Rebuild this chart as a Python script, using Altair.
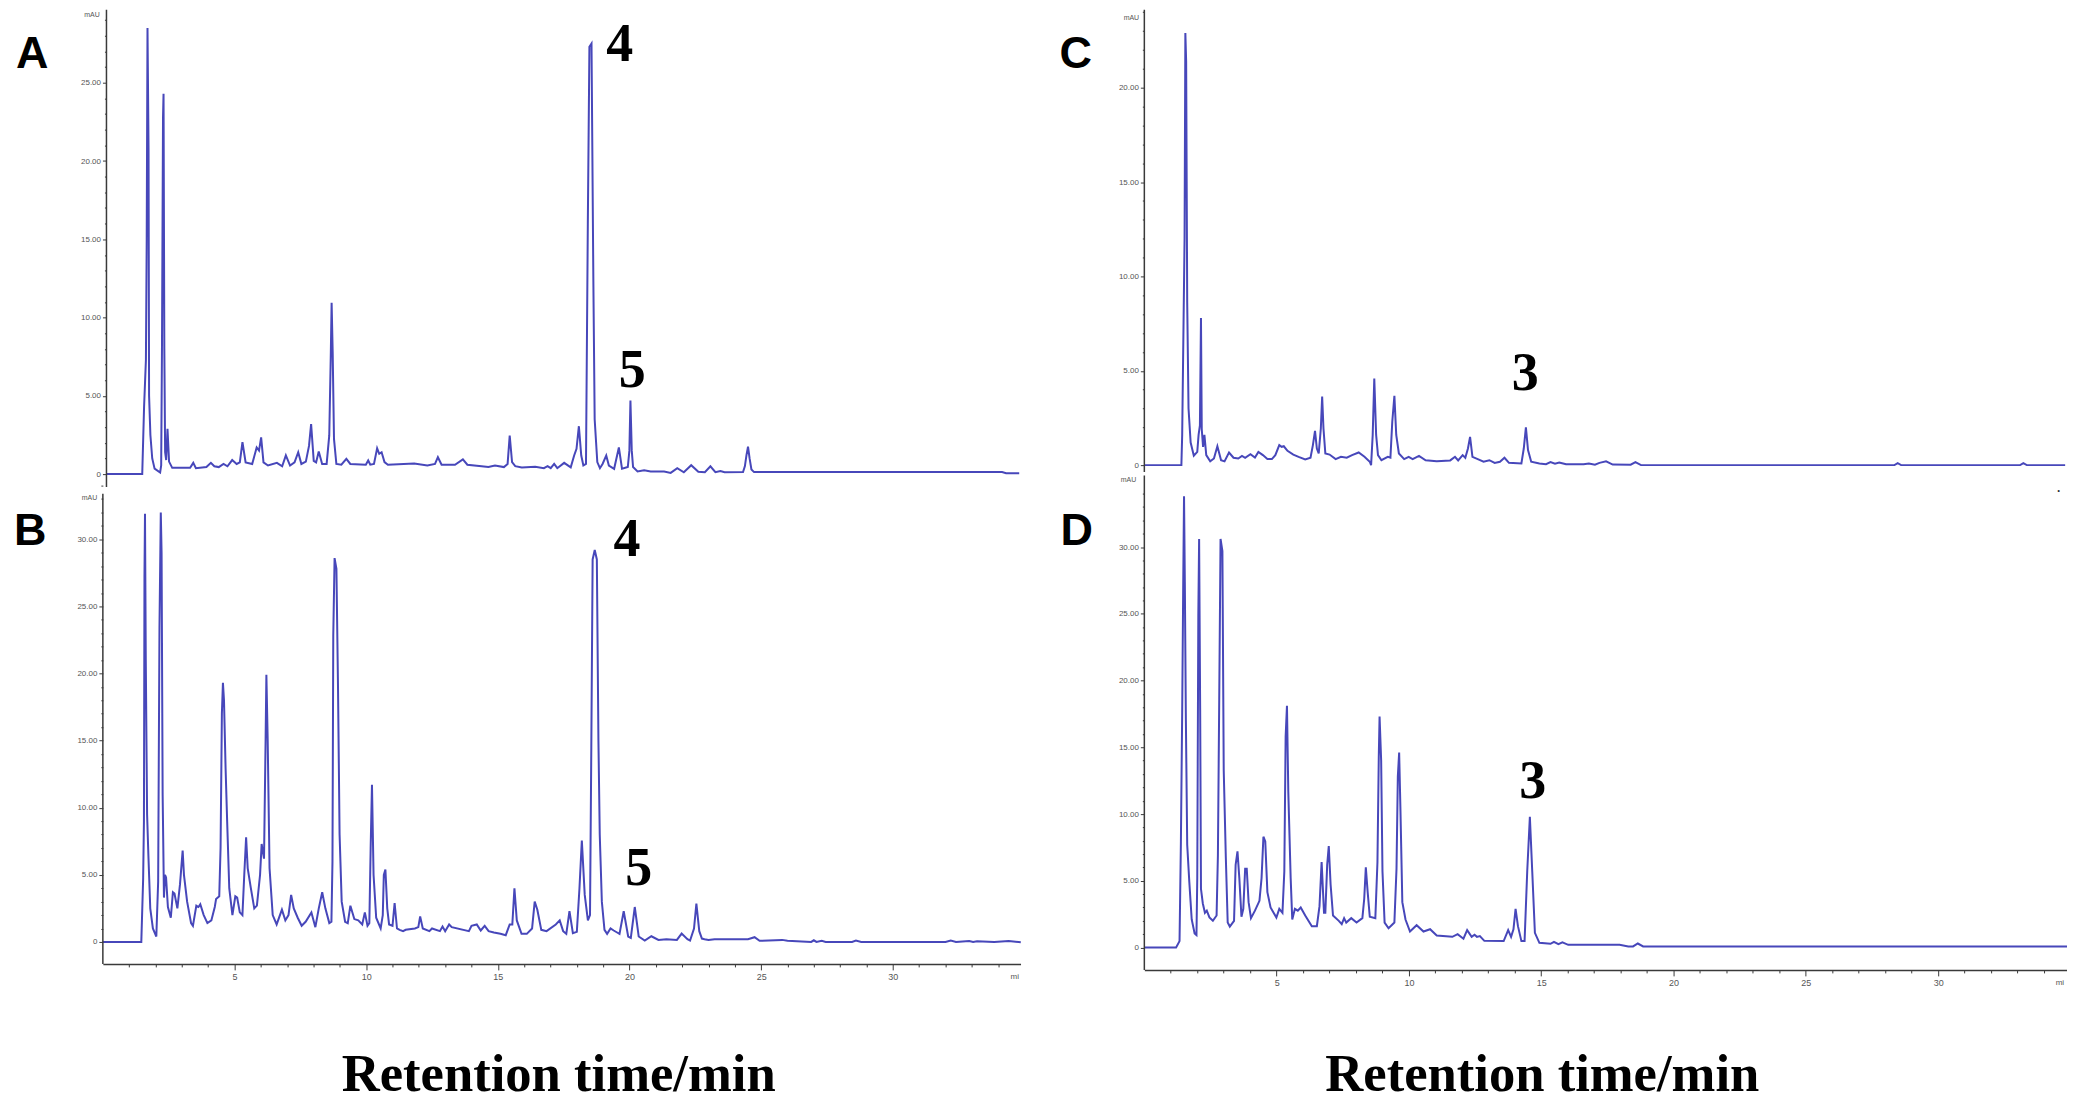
import altair as alt
import pandas as pd

# chromatograms: retention time (min) and signal (labelled axis units)
t_a = [0, 1.36, 1.43, 1.5, 1.53, 1.56, 1.6, 1.62, 1.67, 1.74, 1.83, 2.04, 2.08, 2.11, 2.15, 2.17, 2.2, 2.23, 2.27, 2.32,
       2.38, 2.5, 3.18, 3.3, 3.4, 3.8, 3.97, 4.1, 4.27, 4.45, 4.6, 4.78, 4.95, 5.07, 5.17, 5.29, 5.54, 5.71, 5.8, 5.88,
       5.97, 6.14, 6.48, 6.68, 6.82, 6.98, 7.15, 7.29, 7.41, 7.58, 7.7, 7.78, 7.88, 7.97, 8.07, 8.2, 8.37, 8.47, 8.53, 8.56,
       8.6, 8.65, 8.74, 8.93, 9.12, 9.27, 9.86, 9.95, 10.03, 10.17, 10.29, 10.37, 10.46, 10.57, 10.7, 11.7, 12.2, 12.49, 12.6, 12.74,
       13.25, 13.55, 13.72, 14.26, 14.52, 14.77, 15.11, 15.25, 15.33, 15.42, 15.54, 15.79, 16.3, 16.63, 16.77, 16.89, 17.02, 17.14, 17.4, 17.65,
       17.78, 17.87, 17.96, 18.05, 18.13, 18.23, 18.3, 18.36, 18.44, 18.51, 18.56, 18.66, 18.76, 18.86, 19.0, 19.1, 19.3, 19.48, 19.6, 19.82,
       19.88, 19.92, 19.97, 20.02, 20.19, 20.44, 20.69, 21.2, 21.45, 21.7, 21.95, 22.23, 22.5, 22.75, 22.96, 23.15, 23.34, 23.5, 24.2, 24.27,
       24.33, 24.39, 24.45, 24.52, 24.62, 34.05, 34.2, 34.7]
y_a = [0, 0, 4.3, 7.3, 15, 28.5, 20.7, 5, 2.5, 1, 0.35, 0.1, 0.55, 8, 22.8, 24.3, 8, 1.4, 0.9, 2.9,
       0.8, 0.4, 0.4, 0.72, 0.38, 0.45, 0.72, 0.5, 0.45, 0.65, 0.5, 0.9, 0.65, 0.75, 2.04, 0.75, 0.65, 1.7, 1.5, 2.35,
       0.75, 0.55, 0.72, 0.5, 1.2, 0.55, 0.75, 1.4, 0.65, 0.8, 1.8, 3.2, 0.85, 0.75, 1.45, 0.65, 0.65, 2.47, 7.8, 10.95,
       7.8, 2.25, 0.65, 0.6, 0.98, 0.65, 0.6, 0.87, 0.6, 0.65, 1.65, 1.3, 1.4, 0.77, 0.6, 0.68, 0.55, 0.65, 1.08, 0.6,
       0.6, 0.94, 0.6, 0.51, 0.45, 0.55, 0.45, 0.65, 2.46, 0.76, 0.51, 0.43, 0.47, 0.38, 0.51, 0.38, 0.65, 0.38, 0.72, 0.43,
       1.19, 1.62, 3.06, 1.19, 0.55, 0.65, 16, 27.3, 27.5, 12.4, 3.5, 0.77, 0.38, 0.65, 1.19, 0.55, 0.34, 1.7, 0.34, 0.45,
       1.5, 4.7, 1.5, 0.45, 0.17, 0.25, 0.17, 0.17, 0.08, 0.38, 0.12, 0.57, 0.15, 0.12, 0.5, 0.12, 0.2, 0.12, 0.13, 0.5,
       1.2, 1.75, 1.0, 0.3, 0.13, 0.13, 0.06, 0.06]

t_b = [0, 1.46, 1.53, 1.56, 1.58, 1.6, 1.63, 1.68, 1.73, 1.8, 1.9, 2.03, 2.1, 2.15, 2.2, 2.23, 2.27, 2.32, 2.36, 2.4,
       2.47, 2.58, 2.66, 2.72, 2.83, 2.93, 3.03, 3.08, 3.2, 3.35, 3.42, 3.55, 3.63, 3.7, 3.83, 3.97, 4.12, 4.25, 4.3, 4.42,
       4.47, 4.52, 4.56, 4.6, 4.66, 4.72, 4.8, 4.92, 5.03, 5.1, 5.2, 5.3, 5.37, 5.44, 5.5, 5.62, 5.75, 5.85, 5.97, 6.03,
       6.12, 6.18, 6.21, 6.26, 6.33, 6.45, 6.6, 6.8, 6.93, 7.05, 7.15, 7.25, 7.4, 7.55, 7.7, 7.92, 8.07, 8.2, 8.33, 8.45,
       8.6, 8.68, 8.72, 8.75, 8.8, 8.87, 8.93, 8.99, 9.07, 9.2, 9.3, 9.4, 9.55, 9.7, 9.85, 9.95, 10.05, 10.12, 10.17, 10.22,
       10.28, 10.38, 10.55, 10.63, 10.67, 10.73, 10.8, 10.87, 11.0, 11.08, 11.17, 11.27, 11.4, 11.5, 11.85, 11.98, 12.05, 12.15, 12.4, 12.5,
       12.8, 12.9, 13.0, 13.15, 13.25, 13.9, 14.0, 14.2, 14.35, 14.5, 14.65, 14.85, 15.1, 15.3, 15.45, 15.55, 15.63, 15.72, 15.9, 16.1,
       16.3, 16.4, 16.5, 16.65, 16.85, 17.2, 17.35, 17.48, 17.6, 17.72, 17.85, 18.0, 18.1, 18.19, 18.3, 18.42, 18.5, 18.55, 18.6, 18.68,
       18.76, 18.82, 18.87, 18.95, 19.05, 19.15, 19.28, 19.4, 19.53, 19.62, 19.78, 19.95, 20.05, 20.2, 20.35, 20.58, 20.83, 21.1, 21.4, 21.8,
       21.98, 22.2, 22.3, 22.45, 22.54, 22.65, 22.75, 22.85, 23.0, 23.23, 24.5, 24.75, 24.94, 25.8, 26.0, 26.9, 27.0, 27.1, 27.3, 27.45,
       28.45, 28.6, 28.8, 32.0, 32.2, 32.4, 32.9, 33.05, 33.2, 33.85, 34.4, 34.86]
y_b = [0, 0, 4.7, 9, 27.2, 31.9, 21, 9.5, 6.4, 2.5, 1, 0.4, 4.5, 23.5, 32, 29, 11, 3.3, 5, 4.8,
       2.6, 1.8, 3.7, 3.6, 2.5, 4.3, 6.8, 5, 3, 1.4, 1.2, 2.7, 2.6, 2.8, 2, 1.4, 1.6, 2.6, 3.2, 3.4,
       7, 17, 19.3, 18, 13, 9, 4, 2, 3.4, 3.3, 2.2, 2, 5, 7.8, 5.5, 4, 2.5, 2.7, 5, 7.3,
       6.2, 15, 19.9, 15, 5.5, 2, 1.3, 2.4, 1.6, 2, 3.5, 2.5, 1.8, 1.2, 1.5, 2.2, 1.1, 2.5, 3.7, 2.5,
       1.4, 1.5, 6, 22.8, 28.6, 27.8, 19, 8, 3, 1.5, 1.4, 2.7, 1.7, 1.6, 1.3, 2.2, 1.2, 1.4, 7, 11.7,
       5, 1.8, 1, 2, 5, 5.4, 2.5, 1.3, 1.2, 2.9, 1, 0.9, 0.8, 0.9, 1, 1.1, 1.9, 1, 0.8, 1,
       0.8, 1.15, 0.8, 1.3, 1.1, 0.8, 1.2, 1.3, 0.85, 1.2, 0.8, 0.7, 0.6, 0.5, 1.3, 1.3, 4, 1.6, 0.6, 0.6,
       1, 3, 2.4, 0.9, 0.8, 1.3, 1.6, 0.8, 0.6, 2.3, 0.65, 0.75, 4, 7.56, 3.5, 1.6, 2, 14.5, 28.5, 29.2,
       28.5, 15, 8, 3, 0.9, 0.6, 1, 0.85, 0.7, 0.6, 2.28, 0.4, 0.3, 2.6, 0.4, 0.1, 0.42, 0.15, 0.2, 0.15,
       0.62, 0.2, 0.1, 1.0, 2.85, 0.8, 0.25, 0.2, 0.14, 0.2, 0.2, 0.35, 0.08, 0.15, 0.08, 0, 0.12, 0, 0.08, 0,
       0, 0.1, 0, 0, 0.1, 0, 0.07, 0, 0.05, 0, 0.07, -0.02]

t_c = [0, 1.4, 1.43, 1.52, 1.55, 1.58, 1.62, 1.67, 1.75, 1.87, 2.0, 2.05, 2.1, 2.14, 2.17, 2.22, 2.27, 2.34, 2.49, 2.63,
       2.76, 2.9, 3.03, 3.2, 3.37, 3.55, 3.69, 3.81, 4.01, 4.18, 4.31, 4.48, 4.65, 4.82, 4.95, 5.1, 5.19, 5.27, 5.41, 5.63,
       5.83, 6.08, 6.28, 6.37, 6.45, 6.52, 6.59, 6.67, 6.72, 6.77, 6.84, 7.0, 7.23, 7.43, 7.65, 7.85, 8.1, 8.32, 8.52, 8.57,
       8.63, 8.69, 8.76, 8.83, 8.96, 9.2, 9.3, 9.37, 9.45, 9.52, 9.62, 9.82, 9.99, 10.14, 10.38, 10.63, 11.05, 11.56, 11.74, 11.86,
       12.03, 12.13, 12.23, 12.31, 12.4, 12.6, 12.82, 13.04, 13.24, 13.44, 13.61, 13.78, 14.25, 14.34, 14.42, 14.5, 14.62, 14.93, 15.18, 15.35,
       15.52, 15.68, 15.94, 16.6, 16.8, 17.03, 17.2, 17.45, 17.7, 18.38, 18.56, 18.77, 28.35, 28.47, 28.6, 33.1, 33.22, 33.35, 34.8]
y_c = [0, 0, 1.6, 12, 22.9, 21.4, 8.6, 3, 1.2, 0.5, 0.7, 1.6, 2.1, 7.8, 1.9, 0.97, 1.6, 0.53, 0.2, 0.35,
       1, 0.26, 0.2, 0.67, 0.39, 0.35, 0.49, 0.39, 0.58, 0.4, 0.7, 0.53, 0.32, 0.32, 0.53, 1.06, 0.97, 1, 0.76, 0.56,
       0.44, 0.3, 0.39, 1.06, 1.82, 0.88, 0.62, 1.94, 3.63, 1.94, 0.62, 0.56, 0.32, 0.44, 0.39, 0.53, 0.67, 0.44, 0.18, 0,
       1.59, 4.59, 1.6, 0.53, 0.26, 0.44, 0.4, 2.3, 3.67, 1.6, 0.62, 0.32, 0.44, 0.32, 0.49, 0.26, 0.2, 0.25, 0.44, 0.25,
       0.53, 0.39, 0.88, 1.5, 0.44, 0.32, 0.18, 0.26, 0.12, 0.18, 0.39, 0.12, 0.09, 0.88, 2, 0.8, 0.18, 0.09, 0.05, 0.16,
       0.07, 0.14, 0.05, 0.05, 0.09, 0.02, 0.12, 0.2, 0.03, 0.02, 0.16, 0, 0, 0.1, 0, 0, 0.1, 0, 0]

t_d = [0, 1.2, 1.33, 1.38, 1.43, 1.47, 1.5, 1.53, 1.57, 1.62, 1.7, 1.79, 1.9, 1.97, 2.0, 2.04, 2.07, 2.11, 2.14, 2.21,
       2.29, 2.36, 2.46, 2.59, 2.73, 2.78, 2.83, 2.88, 2.95, 3.0, 3.08, 3.15, 3.23, 3.39, 3.45, 3.52, 3.59, 3.67, 3.74, 3.81,
       3.87, 3.94, 4.03, 4.18, 4.35, 4.43, 4.5, 4.57, 4.65, 4.77, 4.99, 5.1, 5.22, 5.29, 5.34, 5.39, 5.44, 5.53, 5.59, 5.69,
       5.8, 5.91, 6.08, 6.33, 6.52, 6.62, 6.7, 6.79, 6.84, 6.91, 6.97, 7.04, 7.13, 7.35, 7.46, 7.55, 7.63, 7.82, 8.02, 8.24,
       8.31, 8.37, 8.44, 8.52, 8.73, 8.81, 8.86, 8.89, 8.95, 9.0, 9.08, 9.23, 9.45, 9.53, 9.58, 9.63, 9.68, 9.75, 9.87, 10.04,
       10.29, 10.55, 10.8, 11.05, 11.64, 11.84, 12.06, 12.2, 12.37, 12.48, 12.57, 12.68, 12.85, 13.58, 13.75, 13.86, 13.95, 14.03, 14.12, 14.25,
       14.37, 14.47, 14.57, 14.66, 14.76, 14.93, 15.35, 15.48, 15.65, 15.8, 16.02, 17.96, 18.29, 18.47, 18.65, 18.85, 34.87]
y_d = [0, 0, 0.48, 7.7, 17.6, 27.4, 33.8, 27.4, 17, 7.7, 4.9, 2.1, 1.06, 0.94, 5.2, 24.9, 30.6, 17.8, 4.4, 3.3,
       2.6, 2.76, 2.25, 2, 2.4, 6.9, 18.6, 30.6, 29.7, 13.3, 6.7, 1.87, 1.57, 2, 6.2, 7.2, 5.2, 2.3, 2.9, 5.9,
       5.9, 3.4, 2.2, 2.76, 3.5, 5.2, 8.3, 7.95, 4.15, 3, 2.25, 2.9, 2.6, 5.7, 15.8, 18.1, 11.7, 5.2, 2.1, 2.9,
       2.76, 3, 2.4, 1.6, 1.6, 3.1, 6.4, 2.6, 2.6, 6.2, 7.6, 4.7, 2.4, 2, 1.75, 2.2, 1.87, 2.2, 1.87, 2.2,
       3.65, 6, 4.15, 2.3, 2.2, 6.4, 14.3, 17.3, 14, 5.7, 1.87, 1.44, 1.87, 5.9, 12.8, 14.6, 10.2, 3.4, 2.1, 1.2,
       1.67, 1.2, 1.37, 0.9, 0.8, 1, 0.66, 1.3, 0.8, 0.96, 0.8, 0.86, 0.5, 0.48, 1.3, 0.8, 1.37, 2.9, 1.6, 0.48,
       0.48, 5.7, 9.8, 5.7, 1.1, 0.35, 0.28, 0.43, 0.25, 0.38, 0.2, 0.2, 0.08, 0.08, 0.3, 0.08, 0.08]

# text placed on each panel's own scales: text, time, signal
peak_a = [("4", 19.51, 26.4), ("5", 19.99, 5.55)]
peak_b = [("4", 19.9, 28.74), ("5", 20.35, 4.26)]
peak_c = [("3", 14.39, 3.97)]
peak_d = [("3", 14.68, 11.23)]
letters = {"A": (-2.82, 25.96), "B": (-2.76, 29.56), "C": (-2.59, 21.06), "D": (-2.56, 30.13)}
units = {"A": (-0.55, 29.3), "B": (-0.51, 33.04), "C": (-0.49, 23.7), "D": (-0.6, 35.05)}
x_title_b = ("Retention time/min", 17.31, -11.09)
x_title_d = ("Retention time/min", 15.04, -10.73)
end_b = ("mi", 34.63, -2.65)
end_d = ("mi", 34.6, -2.65)

LINE = "#4747ba"
AXIS = "#3a3a3a"
TICK = "#555555"


def y_axis(top, offset=0):
    return alt.Axis(
        title=None, grid=False, domain=False, values=list(range(0, top + 1)), offset=offset,
        tickColor=AXIS, tickWidth=1,
        tickSize={"condition": {"test": "datum.value % 5 === 0", "value": 4}, "value": 2},
        labelExpr="datum.value === 0 ? '0' : datum.value % 5 === 0 ? format(datum.value, '.2f') : ''",
        labelFont="Liberation Sans", labelFontSize=8, labelColor=TICK, labelPadding=2, labelOverlap=False,
    )


def x_axis(offset=0):
    return alt.Axis(
        title=None, grid=False, values=list(range(1, 35)), offset=offset,
        domainColor=AXIS, domainWidth=1.5, tickColor=AXIS, tickWidth=1,
        tickSize={"condition": {"test": "datum.value % 5 === 0", "value": 6}, "value": 3},
        labelExpr="datum.value % 5 === 0 ? datum.value : ''",
        labelFont="Liberation Sans", labelFontSize=9, labelColor=TICK, labelPadding=3,
        labelOverlap=False, labelFlush=False,
    )


def panel(name, times, values, xdom, ydom, peaks, rule, xax, yax, extra=(), height=470):
    sx = alt.Scale(domain=xdom, nice=False, zero=False)
    sy = alt.Scale(domain=ydom, nice=False, zero=False)
    X = alt.X("t:Q", scale=sx, axis=xax)
    Y = alt.Y("v:Q", scale=sy, axis=yax)

    line = alt.Chart(pd.DataFrame({"t": times, "v": values})).mark_line(
        color=LINE, strokeWidth=2, interpolate="linear"
    ).encode(x=X, y=Y)

    spine = alt.Chart(pd.DataFrame({"t": [0], "v": [rule[0]], "v2": [rule[1]]})).mark_rule(
        color=AXIS, strokeWidth=1.5
    ).encode(x=X, y=Y, y2="v2:Q")

    def text(rows, **style):
        frame = pd.DataFrame(rows, columns=["s", "t", "v"])
        return alt.Chart(frame).mark_text(**style).encode(x=X, y=Y, text="s:N")

    layers = [
        line,
        spine,
        text(peaks, font="Liberation Serif", fontWeight="bold", fontSize=54, color="black",
             align="center", baseline="alphabetic"),
        text([(name, *letters[name])], font="Liberation Sans", fontWeight="bold", fontSize=45, color="black",
             align="center", baseline="alphabetic"),
        text([("mAU", *units[name])], font="Liberation Sans", fontSize=7, color=TICK,
             align="center", baseline="middle"),
    ]
    for row, style in extra:
        layers.append(text([row], **style))
    width = 924 if name in "CD" else 919
    return alt.layer(*layers).properties(width=width, height=height)


title_style = dict(font="Liberation Serif", fontWeight="bold", fontSize=52.7, color="black",
                   align="center", baseline="alphabetic")
end_style = dict(font="Liberation Sans", fontSize=8, color=TICK, align="center", baseline="middle")

# the two rows meet at y=480 of the page; the scales carry each panel's real zero and spacing
a = panel("A", t_a, y_a, [-0.137, 34.75], [-0.51, 29.66], peak_a, [29.66, -0.83],
          None, y_axis(29, offset=-3.6), height=473)
c = panel("C", t_c, y_c, [0, 34.87], [-0.9, 24.13], peak_c, [24.13, -0.37],
          None, y_axis(24), extra=[((".", 34.55, -1.22), dict(font="Liberation Sans", fontWeight="bold",
                                                             fontSize=12, color="#333333"))], height=473)
b = panel("B", t_b, y_b, [0, 34.85], [-1.64, 34.15], peak_b, [33.4, -1.64],
          x_axis(), y_axis(34), extra=[(x_title_b, title_style), (end_b, end_style)], height=481)
d = panel("D", t_d, y_d, [0, 34.87], [-1.227, 34.75], peak_d, [35.35, -1.675],
          x_axis(offset=6), y_axis(34), extra=[(x_title_d, title_style), (end_d, end_style)], height=481)

# the page scales the drawing down once it is wider than the window, so keep the right edge tight
chart = alt.concat(a, c, b, d, columns=2, spacing={"row": 1.5, "column": 124}, bounds="flush").properties(
    padding={"left": 5, "top": -1, "right": -4, "bottom": 0}
).configure_view(stroke=None)

chart.save("out.html", embed_options={"renderer": "svg", "actions": False})
